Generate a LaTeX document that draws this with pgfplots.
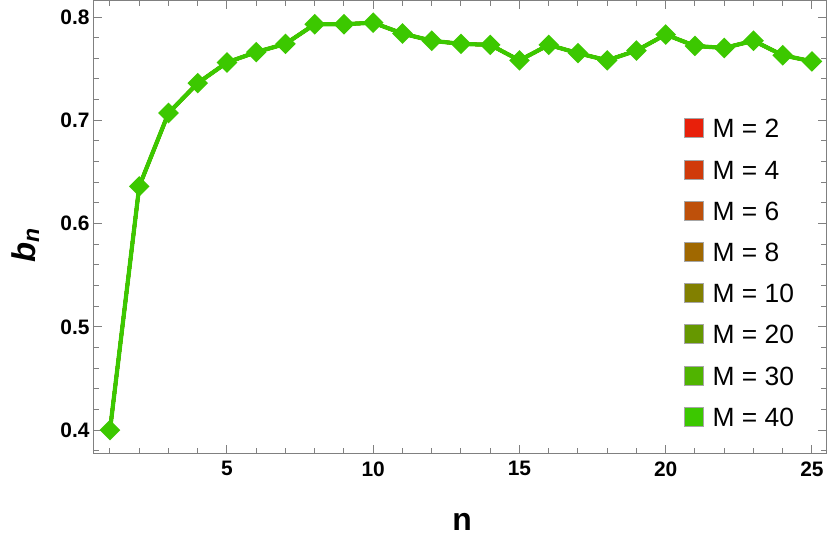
\documentclass[border=0pt]{standalone}
\usepackage{fontspec}
\setmainfont{Liberation Sans}
\usepackage{pgfplots}
\pgfplotsset{compat=1.18}
\usepackage{pgfplotstable}

\definecolor{m2}{RGB}{232,32,10}
\definecolor{m4}{RGB}{208,58,10}
\definecolor{m6}{RGB}{190,80,10}
\definecolor{m8}{RGB}{160,104,0}
\definecolor{m10}{RGB}{130,128,0}
\definecolor{m20}{RGB}{102,152,0}
\definecolor{m30}{RGB}{80,180,0}
\definecolor{m40}{RGB}{60,200,0}
\definecolor{frame}{RGB}{128,128,128}

% same values for every M
\pgfplotstableread{
n b
1 0.400
2 0.636
3 0.707
4 0.736
5 0.756
6 0.766
7 0.774
8 0.793
9 0.793
10 0.7945
11 0.784
12 0.777
13 0.774
14 0.773
15 0.758
16 0.773
17 0.765
18 0.758
19 0.7675
20 0.783
21 0.772
22 0.770
23 0.777
24 0.763
25 0.757
}\bdata

\newcommand{\swatch}[1]{\addlegendimage{legend image code/.code={%
  \draw[fill=#1, draw=black!35, line width=1bp] (0bp,-9.5bp) rectangle (19bp,9.5bp);}}}

\pgfplotsset{series/.style={line width=3.3bp, mark=square*, mark size=4.6bp, mark options={rotate=45}, forget plot}}

\begin{document}
\begin{tikzpicture}
\begin{axis}[
  name=ax,
  scale only axis,
  width=732bp, height=452bp,
  xmin=0.453, xmax=25.48,
  ymin=0.3778, ymax=0.8155,
  xtick={5,10,15,20,25},
  minor xtick={1,...,25},
  ytick={0.4,0.5,0.6,0.7,0.8},
  minor ytick={0.38,0.42,0.44,0.46,0.48,0.52,0.54,0.56,0.58,0.62,0.64,0.66,0.68,0.72,0.74,0.76,0.78},
  /pgf/number format/assume math mode=true,
  yticklabel style={/pgf/number format/fixed, /pgf/number format/precision=1, /pgf/number format/fixed zerofill},
  tick label style={font=\bfseries\fontsize{21}{21}\selectfont, black},
  xticklabel style={yshift=-5bp},
  yticklabel style={xshift=-1bp},
  axis line style={frame, line width=1bp},
  tick style={frame, line width=1bp},
  major tick length=8bp,
  minor tick length=5bp,
  xlabel={n},
  ylabel={\itshape b\textsubscript{n}},
  xlabel style={font=\bfseries\fontsize{32}{32}\selectfont, at={(axis description cs:0.503,-0.152)}, anchor=center},
  ylabel style={font=\bfseries\fontsize{33}{33}\selectfont, at={(axis description cs:-0.094,0.46)}, anchor=center, rotate=0},
  legend cell align=left,
  legend style={draw=none, fill=none, at={(rel axis cs:0.801,0.746)}, anchor=north west,
    font=\fontsize{26.5}{26.5}\selectfont, row sep=20.2bp, column sep=8bp,
    nodes={inner sep=1bp, text height=19bp, text depth=0bp}},
]
\addplot[m2, series] table[x=n,y=b] {\bdata};
\addplot[m4, series] table[x=n,y=b] {\bdata};
\addplot[m6, series] table[x=n,y=b] {\bdata};
\addplot[m8, series] table[x=n,y=b] {\bdata};
\addplot[m10, series] table[x=n,y=b] {\bdata};
\addplot[m20, series] table[x=n,y=b] {\bdata};
\addplot[m30, series] table[x=n,y=b] {\bdata};
\addplot[m40, series, line width=4.2bp, mark size=5.2bp] table[x=n,y=b] {\bdata};
\swatch{m2}\addlegendentry{M = 2}
\swatch{m4}\addlegendentry{M = 4}
\swatch{m6}\addlegendentry{M = 6}
\swatch{m8}\addlegendentry{M = 8}
\swatch{m10}\addlegendentry{M = 10}
\swatch{m20}\addlegendentry{M = 20}
\swatch{m30}\addlegendentry{M = 30}
\swatch{m40}\addlegendentry{M = 40}
\end{axis}
\pgfresetboundingbox
\path ([shift={(-94bp,-96bp)}]ax.south west) rectangle ([shift={(4bp,1bp)}]ax.north east);
\end{tikzpicture}
\end{document}
